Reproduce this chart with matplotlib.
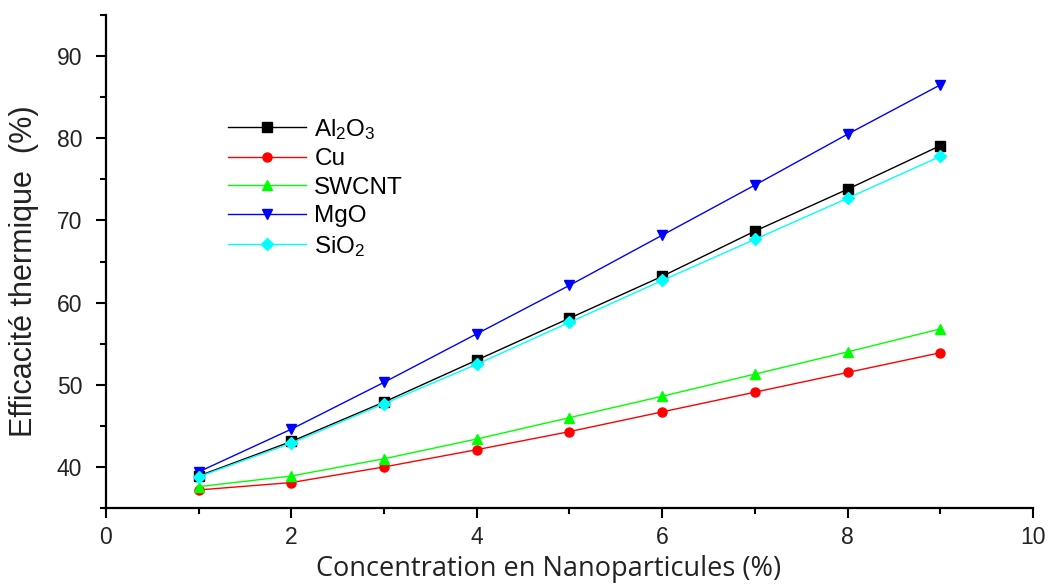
import matplotlib
matplotlib.use('Agg')
import matplotlib.pyplot as plt
from matplotlib.ticker import MultipleLocator

plt.rcParams['font.family'] = ['Liberation Sans', 'DejaVu Sans']
plt.rcParams['mathtext.default'] = 'regular'

# Data
conc = [1, 2, 3, 4, 5, 6, 7, 8, 9]
al2o3 = [38.9, 43.1, 47.9, 53.0, 58.1, 63.2, 68.7, 73.8, 79.1]
cu = [37.2, 38.1, 40.0, 42.1, 44.3, 46.7, 49.1, 51.5, 53.9]
swcnt = [37.6, 38.9, 41.0, 43.4, 46.0, 48.6, 51.3, 54.0, 56.8]
mgo = [39.4, 44.6, 50.3, 56.2, 62.1, 68.2, 74.3, 80.5, 86.5]
sio2 = [38.8, 42.9, 47.7, 52.5, 57.6, 62.7, 67.7, 72.7, 77.8]

fig = plt.figure(figsize=(10.48, 5.84), dpi=100)
ax = fig.add_axes([0.1011, 0.1301, 0.8846, 0.8442])

ax.plot(conc, al2o3, '-s', color='black', lw=1, ms=6.5, label=r'Al$_2$O$_3$')
ax.plot(conc, cu, '-o', color='#ff0000', lw=1, ms=6.5, label='Cu')
ax.plot(conc, swcnt, '-^', color='#00ff00', lw=1, ms=7.5, label='SWCNT')
ax.plot(conc, mgo, '-v', color='#0000ff', lw=1, ms=7.5, label='MgO')
ax.plot(conc, sio2, '-D', color='#00ffff', lw=1, ms=6, label=r'SiO$_2$')

ax.set_xlim(0, 10)
ax.set_ylim(35, 95)
ax.xaxis.set_major_locator(MultipleLocator(2))
ax.xaxis.set_minor_locator(MultipleLocator(1))
ax.yaxis.set_minor_locator(MultipleLocator(5))
ax.set_yticks([40, 50, 60, 70, 80, 90])

# Only left and bottom axes
ax.spines['top'].set_visible(False)
ax.spines['right'].set_visible(False)
ax.spines['left'].set_linewidth(1.6)
ax.spines['bottom'].set_linewidth(1.6)
ax.tick_params(which='major', direction='out', length=7, width=1.5,
               labelsize=16.5, colors='black', labelcolor='#222222')
ax.tick_params(axis='y', which='major', pad=10)
ax.tick_params(axis='x', which='major', pad=6)
ax.tick_params(which='minor', direction='out', length=4, width=1.5)

ax.set_xlabel('Concentration en Nanoparticules (%)', family='Open Sans',
              fontsize=19.5, color='#222222', labelpad=4)
ax.xaxis.set_label_coords(0.477, -0.095)
ax.set_ylabel('Efficacité thermique  (%)', fontsize=22, color='#222222',
              labelpad=10)
ax.yaxis.set_label_coords(-0.072, 0.48)

ax.legend(loc='upper left', bbox_to_anchor=(0.2176, 0.800),
          bbox_transform=fig.transFigure, frameon=False, fontsize=17.5,
          handlelength=3.2, handletextpad=0.35, labelspacing=0.27,
          borderpad=0, borderaxespad=0)

fig.savefig('out.png', dpi=100)
